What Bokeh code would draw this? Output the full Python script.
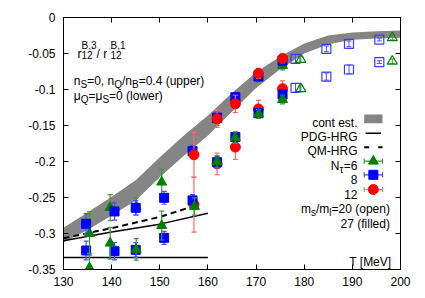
import numpy as np
from bokeh.plotting import figure
from bokeh.models import Label, LinearAxis, FixedTicker, Range1d
from bokeh.embed import file_html
from bokeh.resources import INLINE

FONT = "Liberation Sans"

# ---------------- axes ----------------
x_ticks = [130, 140, 150, 160, 170, 180, 190, 200]
x_tick_labels = ["130", "140", "150", "160", "170", "180", "190", "200"]
y_ticks = [-0.35, -0.3, -0.25, -0.2, -0.15, -0.1, -0.05, 0.0]
y_tick_labels = ["-0.35", "-0.3", "-0.25", "-0.2", "-0.15", "-0.1", "-0.05", "0"]

# ---------------- continuum estimate band ----------------
cont_T = [130, 135, 140, 145, 150, 155, 160, 165, 170, 175, 180, 185, 190, 195, 200]
cont_mid = [-0.302, -0.283, -0.262, -0.240, -0.208, -0.178, -0.150, -0.118,
            -0.087, -0.063, -0.043, -0.031, -0.026, -0.024, -0.023]
cont_err = [0.010, 0.012, 0.013, 0.014, 0.014, 0.014, 0.014, 0.013,
            0.011, 0.009, 0.007, 0.006, 0.005, 0.005, 0.005]

# ---------------- HRG curves ----------------
pdg_T = [130, 140, 150, 160]
pdg_v = [-0.310, -0.298, -0.287, -0.272]
qm_T = [130, 140, 150, 157.5]
qm_v = [-0.3065, -0.2926, -0.277, -0.261]
hrg0_T = [130, 160]
hrg0_v = [-0.3333, -0.3333]

# ---------------- lattice data, ms/ml = 27 (filled) ----------------
# upper: nS=0, nQ/nB=0.4
n6_up_T = [135.4, 139.7, 145.1, 150.4, 161.9, 165.7, 170.5, 175.5]
n6_up_v = [-0.300, -0.264, -0.2625, -0.2287, -0.142, -0.111, -0.083, -0.0667]
n6_up_e = [0.030, 0.018, 0.012, 0.018, 0.008, 0.006, 0.006, 0.006]
n8_up_T = [134.7, 140.6, 145.0, 150.9, 156.8, 161.9, 165.7, 170.5, 175.5]
n8_up_v = [-0.2865, -0.2694, -0.2643, -0.2504, -0.1856, -0.139, -0.1107, -0.082, -0.060]
n8_up_e = [0.014, 0.012, 0.010, 0.009, 0.008, 0.008, 0.006, 0.006, 0.006]
n12_up_T = [157.1, 161.9, 165.7, 170.5, 175.5]
n12_up_v = [-0.1907, -0.1407, -0.120, -0.0775, -0.057]
n12_up_e = [0.031, 0.012, 0.012, 0.007, 0.006]
# lower: muQ=muS=0
n6_lo_T = [135.4, 139.7, 145.1, 150.4, 157.2, 161.9, 165.7, 170.5, 175.5]
n6_lo_v = [-0.3477, -0.3135, -0.322, -0.289, -0.2625, -0.200, -0.167, -0.134, -0.114]
n6_lo_e = [0.020, 0.022, 0.015, 0.020, 0.012, 0.008, 0.008, 0.006, 0.006]
n8_lo_T = [134.7, 140.6, 145.0, 150.9, 156.8, 161.9, 165.7, 170.5, 175.5]
n8_lo_v = [-0.3236, -0.3245, -0.3227, -0.306, -0.254, -0.201, -0.166, -0.133, -0.107]
n8_lo_e = [0.013, 0.012, 0.010, 0.009, 0.008, 0.008, 0.007, 0.006, 0.006]
n12_lo_T = [157.1, 161.9, 165.7, 170.5, 175.5]
n12_lo_v = [-0.260, -0.2032, -0.180, -0.127, -0.099]
n12_lo_e = [0.038, 0.015, 0.017, 0.012, 0.011]

# ---------------- lattice data, ms/ml = 20 (open) ----------------
o8_up_T = [178.2, 184.6, 189.3, 195.6]
o8_up_v = [-0.0574, -0.0435, -0.0366, -0.0306]
o8_up_e = [0.006, 0.004, 0.004, 0.002]
o8_lo_T = [178.2, 184.6, 189.3, 195.6]
o8_lo_v = [-0.0977, -0.082, -0.0722, -0.062]
o8_lo_e = [0.006, 0.005, 0.006, 0.002]
o6_up_T = [179.3, 198.3]
o6_up_v = [-0.0583, -0.0282]
o6_up_e = [0.004, 0.003]
o6_lo_T = [179.3, 198.3]
o6_lo_v = [-0.099, -0.0607]
o6_lo_e = [0.004, 0.003]

# ---------------- colours ----------------
GREEN, GREEN_ERR = "#008000", "#3a9a3a"
BLUE, BLUE_ERR = "#0000ff", "#4a4aff"
RED, RED_ERR = "#ff0000", "#ff6a6a"
BAND = "#858585"

p = figure(width=420, height=292, output_backend="svg", toolbar_location=None,
           x_range=Range1d(130, 200), y_range=Range1d(-0.35, 0.0),
           min_border_left=63, min_border_top=17, min_border_right=20, min_border_bottom=23)
p.background_fill_color = "white"
p.border_fill_color = "white"
p.grid.visible = False
p.outline_line_color = "black"
p.outline_line_width = 1


def style_axis(ax, ticks, labels, show):
    ax.ticker = FixedTicker(ticks=ticks, minor_ticks=[])
    ax.major_label_overrides = {t: (l if show else "") for t, l in zip(ticks, labels)}
    ax.major_tick_in = 5
    ax.major_tick_out = 0
    ax.minor_tick_in = 0
    ax.minor_tick_out = 0
    ax.axis_line_color = "black"
    ax.major_tick_line_color = "black"
    ax.major_label_text_font = FONT
    ax.major_label_text_font_size = "12px"
    ax.major_label_text_color = "black"
    ax.major_label_standoff = 8 if show else 0


style_axis(p.xaxis[0], x_ticks, x_tick_labels, True)
style_axis(p.yaxis[0], y_ticks, y_tick_labels, True)
p.xaxis[0].major_label_standoff = 7
top_ax = LinearAxis()
right_ax = LinearAxis()
style_axis(top_ax, x_ticks, x_tick_labels, False)
style_axis(right_ax, y_ticks, y_tick_labels, False)
p.add_layout(top_ax, "above")
p.add_layout(right_ax, "right")

# band
lo = [m - e for m, e in zip(cont_mid, cont_err)]
hi = [m + e for m, e in zip(cont_mid, cont_err)]
p.varea(x=cont_T, y1=lo, y2=hi, fill_color=BAND)

# HRG lines
p.line(pdg_T, pdg_v, line_color="black", line_width=1.5)
p.line(qm_T, qm_v, line_color="black", line_width=2, line_dash="6 4")
p.line(hrg0_T, hrg0_v, line_color="black", line_width=1.5)


def errbars(T, v, e, color, width=1.2):
    T = np.array(T, float)
    v = np.array(v, float)
    e = np.array(e, float)
    p.segment(T, v - e, T, v + e, line_color=color, line_width=width)
    p.scatter(T, v - e, marker="dash", size=5, line_color=color, line_width=width)
    p.scatter(T, v + e, marker="dash", size=5, line_color=color, line_width=width)


def filled(T, v, e, kind):
    if kind == 6:
        errbars(T, v, e, GREEN_ERR)
        p.scatter(T, v, marker="triangle", size=10, fill_color=GREEN, line_color=GREEN)
    elif kind == 8:
        errbars(T, v, e, BLUE_ERR)
        p.scatter(T, v, marker="square", size=9, fill_color=BLUE, line_color=BLUE)
    else:
        errbars(T, v, e, RED_ERR)
        p.scatter(T, v, marker="circle", size=10, fill_color=RED, line_color=RED)


# lower set
filled(n12_lo_T, n12_lo_v, n12_lo_e, 12)
filled(n8_lo_T, n8_lo_v, n8_lo_e, 8)
filled(n6_lo_T, n6_lo_v, n6_lo_e, 6)
# upper set
filled(n6_up_T, n6_up_v, n6_up_e, 6)
filled(n8_up_T, n8_up_v, n8_up_e, 8)
filled(n12_up_T, n12_up_v, n12_up_e, 12)

# open symbols
for T, v, e in [(o8_up_T, o8_up_v, o8_up_e), (o8_lo_T, o8_lo_v, o8_lo_e)]:
    errbars(T, v, e, BLUE_ERR, 1.0)
    p.scatter(T, v, marker="square", size=9, fill_color=None, line_color="#3b3bff", line_width=1.2)
for T, v, e in [(o6_up_T, o6_up_v, o6_up_e), (o6_lo_T, o6_lo_v, o6_lo_e)]:
    errbars(T, v, e, GREEN_ERR, 1.0)
    p.scatter(T, v, marker="triangle", size=10, fill_color=None, line_color=GREEN, line_width=1.2)

# ---------------- text helpers ----------------
WID = {' ': 278, ',': 278, '.': 278, '/': 278, '=': 584, '(': 333, ')': 333, '-': 333,
       '[': 278, ']': 278, 'μ': 576, 'τ': 434}
for c in "0123456789":
    WID[c] = 556
WID.update(dict(zip("abcdefghijklmnopqrstuvwxyz",
                    [556, 556, 500, 556, 556, 278, 556, 556, 222, 222, 500, 222, 833, 556, 556,
                     556, 556, 333, 500, 278, 556, 500, 722, 500, 500, 500])))
WID.update(dict(zip("ABCDEFGHIJKLMNOPQRSTUVWXYZ",
                    [667, 667, 722, 722, 667, 611, 778, 722, 278, 500, 667, 556, 833, 722, 778,
                     667, 778, 722, 667, 611, 722, 667, 944, 667, 667, 611])))

FS, FS_SMALL = 12, 10


def tw(s, fs):
    return sum(WID.get(c, 556) for c in s) / 1000.0 * fs


def lab(x, y, text, fs=FS, xo=0.0, yo=0.0, align="left"):
    p.add_layout(Label(x=x, y=y, text=text, x_offset=xo, y_offset=yo,
                       text_font=FONT, text_font_size=f"{fs}px", text_color="black",
                       text_align=align, text_baseline="alphabetic"))


def rich(x, y, parts, align="left", sub_off=-3.5, sup_off=8.0, ss_sub_off=-1.0):
    def pw(t, k):
        if k == "n":
            return tw(t, FS)
        if k in ("sub", "sup"):
            return tw(t, FS_SMALL)
        return max(tw(t[0], FS_SMALL), tw(t[1], FS_SMALL))
    total = sum(pw(t, k) for t, k in parts)
    off = 0.0 if align == "left" else -total
    for t, k in parts:
        if k == "n":
            lab(x, y, t, FS, off, 0)
        elif k == "sub":
            lab(x, y, t, FS_SMALL, off, sub_off)
        elif k == "sup":
            lab(x, y, t, FS_SMALL, off, sup_off)
        else:
            lab(x, y, t[0], FS_SMALL, off, sup_off)
            lab(x, y, t[1], FS_SMALL, off, ss_sub_off)
        off += pw(t, k)


# top-left annotation
rich(132.9, -0.0504, [("r", "n"), (("B,3", "12"), "ss"), ("/  r", "n"), (("B,1", "12"), "ss")])
rich(132.14, -0.0875, [("n", "n"), ("S", "sub"), ("=0, n", "n"), ("Q", "sub"), ("/n", "n"),
                       ("B", "sub"), ("=0.4 (upper)", "n")])
rich(132.14, -0.1093, [("μ", "n"), ("Q", "sub"), ("=μ", "n"), ("S", "sub"), ("=0  (lower)", "n")])

# ---------------- legend ----------------
LEG_TXT_X = 191.07
LEG_X0, LEG_X1, LEG_XC = 192.46, 196.26, 194.36

lab(LEG_TXT_X, -0.1465, "cont est.", align="right")
p.quad(left=[LEG_X0], right=[LEG_X1], top=[-0.1347], bottom=[-0.1468], fill_color=BAND, line_color=None)

lab(LEG_TXT_X, -0.1664, "PDG-HRG", align="right")
p.segment([LEG_X0 + 0.3], [-0.1607], [LEG_X1 - 0.3], [-0.1607], line_color="black", line_width=1.5)

lab(LEG_TXT_X, -0.1861, "QM-HRG", align="right")
p.segment([LEG_X0], [-0.1801], [LEG_X1], [-0.1801], line_color="black", line_width=2, line_dash="5 9")

rich(LEG_TXT_X, -0.2058, [("N", "n"), ("τ", "sub"), ("=6", "n")], align="right")
lab(LEG_TXT_X, -0.2256, "8", align="right")
lab(LEG_TXT_X, -0.2453, "12", align="right")

for yv, col, mk, sz in [(-0.1996, GREEN, "triangle", 10), (-0.2185, BLUE, "square", 9),
                        (-0.2389, RED, "circle", 10)]:
    ecol = {GREEN: GREEN_ERR, BLUE: BLUE_ERR, RED: RED_ERR}[col]
    p.segment([LEG_X0], [yv], [LEG_X1], [yv], line_color=ecol, line_width=1.2)
    p.scatter([LEG_X0, LEG_X1], [yv, yv], marker="dash", angle=np.pi / 2, size=5,
              line_color=ecol, line_width=1.2)
    p.scatter([LEG_XC], [yv], marker=mk, size=sz, fill_color=col, line_color=col)

rich(197.8, -0.2657, [("m", "n"), ("s", "sub"), ("/m", "n"), ("l", "sub"), ("=20 (open)", "n")],
     align="right")
lab(197.8, -0.2868, "27 (filled)", align="right")
lab(198.1, -0.3389, "T [MeV]", align="right")

open("out.html", "w").write(file_html(p, INLINE))
